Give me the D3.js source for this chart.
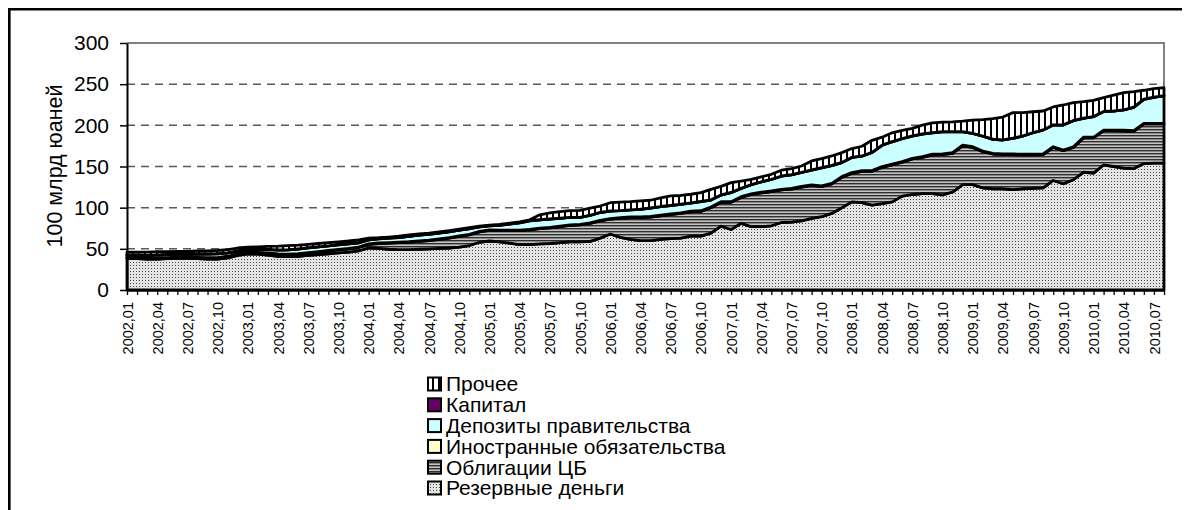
<!DOCTYPE html>
<html><head><meta charset="utf-8">
<script src="https://cdn.jsdelivr.net/npm/d3@7"></script>
<style>
body{margin:0;background:#fff;}
svg{display:block;font-family:Arial,"Liberation Sans",sans-serif;}
</style>
</head><body>
<svg id="chart" width="1187" height="510"></svg>
<script>
// ---- categories (monthly, 2002,01 .. 2010,08) ----
const categories = [];
for (let y = 2002; y <= 2010; y++) {
  for (let m = 1; m <= 12; m++) {
    if (y === 2010 && m > 8) break;
    categories.push(y + "," + String(m).padStart(2, "0"));
  }
}
const yTicks = [0, 50, 100, 150, 200, 250, 300];
const yTitle = "100 млрд юаней";

// ---- series values (100 bn yuan) ----
const reserve = [
  38.5, 38, 37.5, 37.5, 38, 38.5, 38.5, 38, 37.5, 37.5, 39, 42,
  44, 43.5, 42.5, 41, 40.5, 41, 42, 43, 44, 45, 46, 47.5,
  51, 50.5, 49.5, 49, 49, 49.5, 50, 50.5, 51, 52, 54, 58,
  59.5, 58.5, 57, 55, 55, 56, 56.5, 57.5, 58.5, 58.5, 59, 63,
  68, 64, 61.5, 60, 60, 61.5, 62.5, 63, 65.5, 65.5, 69, 77.5,
  73.5, 81, 77, 77, 78, 82, 82.5, 84, 87, 89, 93, 100,
  107, 106, 103, 105, 107, 114, 116, 117, 117, 115.5, 119, 128,
  128, 124, 123, 123, 122, 123, 123.5, 124, 133, 129, 134, 143,
  142, 152, 150, 148, 147.5, 153.5, 154, 154
];
const bonds = [
  0.3, 0.3, 0.4, 0.6, 0.8, 1.0, 1.1, 1.2, 1.3, 1.4, 1.5, 1.5,
  1.5, 1.8, 2, 2.3, 2.5, 2.8, 3, 3.2, 3.5, 3.8, 4, 4.2,
  4.5, 6, 7.5, 8.5, 9, 9.5, 10, 11, 12, 13, 13, 12.5,
  12.8, 13.5, 15, 17, 18, 18.5, 19, 19.5, 20, 20.5, 22, 21,
  18, 23, 26.5, 28, 28.5, 28.5, 29, 30, 29.5, 30, 31, 29,
  33, 31.5, 39, 41, 41.5, 39.5, 40, 41, 39.8, 36.6, 35.8, 36.9,
  34.7, 38.2, 41.2, 44, 45, 41.2, 43.2, 44.2, 47.2, 48.9, 47, 47.2,
  45.2, 44, 42.2, 41.4, 42.4, 41.2, 40.7, 40.4, 40.2, 40.2, 39.2, 41.7,
  42.7, 41.5, 43.5, 45.2, 45.2, 48.2, 47.7, 47.7
];
const foreign = [
  0.5, 0.5, 0.4, 0.5, 0.5, 0.5, 0.5, 0.4, 0.5, 0.5, 0.5, 0.5,
  0.5, 0.5, 0.5, 0.5, 0.4, 0.5, 0.5, 0.5, 0.5, 0.5, 0.5, 0.5,
  0.6, 0.6, 0.6, 0.6, 0.6, 0.6, 0.6, 0.6, 0.6, 0.6, 0.6, 0.6,
  0.6, 0.6, 0.6, 0.6, 0.6, 0.6, 0.6, 0.6, 0.6, 0.6, 0.6, 0.6,
  0.8, 0.8, 0.8, 0.8, 0.8, 0.8, 0.8, 0.8, 0.8, 0.8, 0.8, 0.8,
  0.8, 0.8, 0.8, 0.8, 0.8, 0.8, 0.8, 0.8, 0.8, 0.8, 0.8, 0.8,
  0.8, 0.8, 0.8, 0.8, 0.8, 0.8, 0.8, 0.8, 0.8, 0.8, 0.8, 0.8,
  0.8, 0.8, 0.8, 0.8, 0.8, 0.8, 0.8, 0.8, 0.8, 0.8, 0.8, 0.8,
  0.8, 0.8, 0.8, 0.8, 0.8, 0.8, 0.8, 0.8
];
const deposits = [
  3.0, 3.3, 3.6, 3.8, 3.6, 3.5, 3.6, 3.9, 4.3, 4.5, 4.0, 3.1,
  3.3, 3.6, 4.2, 4.8, 5.3, 5.5, 5.6, 5.6, 5.5, 5.5, 5.4, 5.0,
  4.7, 5, 5.3, 5.5, 6.5, 7, 7, 7, 7, 7, 6.8, 5.5,
  5, 6, 7.5, 9, 10.5, 10, 10, 9.5, 9, 8.5, 9, 9.5,
  9, 8.5, 8.4, 9.2, 10.2, 10.4, 10.2, 10.2, 9.7, 11, 8.5, 8,
  11, 10, 11, 12.5, 14, 16, 16.5, 17, 18, 22, 21.5, 17,
  18.5, 17.6, 22, 26, 27.2, 27.8, 27, 27.3, 25.9, 27, 25.3, 16.1,
  16.1, 18, 17, 17, 19, 22, 26, 29, 26.4, 30.4, 31.7, 23,
  25, 22.4, 23.1, 24.7, 28.4, 29.1, 31.5, 33.5
];
const capital = [
  0.2, 0.2, 0.2, 0.2, 0.2, 0.2, 0.2, 0.2, 0.2, 0.2, 0.2, 0.2,
  0.2, 0.2, 0.2, 0.2, 0.2, 0.2, 0.2, 0.2, 0.2, 0.2, 0.2, 0.2,
  0.2, 0.2, 0.2, 0.2, 0.2, 0.2, 0.2, 0.2, 0.2, 0.2, 0.2, 0.2,
  0.2, 0.2, 0.2, 0.2, 0.2, 0.2, 0.2, 0.2, 0.2, 0.2, 0.2, 0.2,
  0.2, 0.2, 0.2, 0.2, 0.2, 0.2, 0.2, 0.2, 0.2, 0.2, 0.2, 0.2,
  0.2, 0.2, 0.2, 0.2, 0.2, 0.2, 0.2, 0.2, 0.2, 0.2, 0.2, 0.2,
  0.2, 0.2, 0.2, 0.2, 0.2, 0.2, 0.2, 0.2, 0.2, 0.2, 0.2, 0.2,
  0.2, 0.2, 0.2, 0.2, 0.2, 0.2, 0.2, 0.2, 0.2, 0.2, 0.2, 0.2,
  0.2, 0.2, 0.2, 0.2, 0.2, 0.2, 0.2, 0.2
];
const other = [
  3.5, 3.7, 3.8, 3.9, 3.4, 3.3, 3.1, 3.7, 3.7, 3.9, 3.8, 3.7,
  2.5, 2.9, 3.6, 4.5, 5, 4.5, 4.2, 4, 3.8, 3.5, 3.4, 3.6,
  2, 1.2, 1.2, 1.5, 1.7, 1.2, 1.2, 1.2, 1.2, 1, 1, 0.8,
  0.8, 0.8, 0.9, 1, 1, 6, 7.5, 8, 8, 8.5, 8.5, 7.7,
  10, 10.3, 9.9, 10.1, 9.3, 10.4, 11.5, 10.6, 10.6, 10.7, 12.8, 10.3,
  11.9, 8.8, 6.3, 6, 6, 7, 7.3, 7.6, 11, 11, 11.5, 12,
  10.6, 11.8, 14.6, 9.6, 10.7, 9.8, 9.2, 10.7, 11.9, 11.6, 12, 12.8,
  16, 20, 24.9, 27.7, 31, 28.3, 25.3, 23, 21.7, 24.1, 21.6, 20,
  19.6, 16.7, 19.2, 20.9, 18.8, 10.8, 10.4, 9.6
];

const seriesNames = ["Резервные деньги", "Облигации ЦБ", "Иностранные обязательства",
  "Депозиты правительства", "Капитал", "Прочее"];
const seriesValues = [reserve, bonds, foreign, deposits, capital, other];

// ---- drawing ----
const svg = d3.select("#chart");
const defs = svg.append("defs");

const pRes = defs.append("pattern").attr("id", "pRes").attr("patternUnits", "userSpaceOnUse")
  .attr("width", 3).attr("height", 3);
pRes.append("rect").attr("width", 3).attr("height", 3).attr("fill", "#e4e4e4");
pRes.append("rect").attr("x", 1).attr("y", 1).attr("width", 1).attr("height", 1).attr("fill", "#4a4a4a");

const pBond = defs.append("pattern").attr("id", "pBond").attr("patternUnits", "userSpaceOnUse")
  .attr("width", 4).attr("height", 3);
pBond.append("rect").attr("width", 4).attr("height", 3).attr("fill", "#c4c4c4");
pBond.append("rect").attr("y", 0).attr("width", 4).attr("height", 1.4).attr("fill", "#2e2e2e");

const pOth = defs.append("pattern").attr("id", "pOth").attr("patternUnits", "userSpaceOnUse")
  .attr("width", 6).attr("height", 6);
pOth.append("rect").attr("width", 6).attr("height", 6).attr("fill", "#fff");
pOth.append("rect").attr("x", 0).attr("width", 2).attr("height", 6).attr("fill", "#000");

const fills = ["url(#pRes)", "url(#pBond)", "#ffffcc", "#ccffff", "#660066", "url(#pOth)"];

// outer frame (top and left visible)
svg.append("line").attr("x1", 8).attr("x2", 1182).attr("y1", 9.3).attr("y2", 9.3)
  .attr("stroke", "#000").attr("stroke-width", 2.6);
svg.append("line").attr("x1", 9.3).attr("x2", 9.3).attr("y1", 8).attr("y2", 512)
  .attr("stroke", "#000").attr("stroke-width", 2.6);

const x0 = 127, x1 = 1164, yTop = 43, yBot = 290;
const x = d3.scalePoint().domain(categories).range([x0, x1]);
const y = d3.scaleLinear().domain([0, 300]).range([yBot, yTop]);

svg.append("path").attr("d", `M${x0},${yTop}H${x1}V${yBot}`)
  .attr("fill", "none").attr("stroke", "#808080").attr("stroke-width", 2);

svg.append("g").selectAll("line").data(yTicks.filter(t => t > 0 && t < 300)).join("line")
  .attr("x1", x0).attr("x2", x1)
  .attr("y1", d => y(d)).attr("y2", d => y(d))
  .attr("stroke", "#5a5a5a").attr("stroke-width", 1.5).attr("stroke-dasharray", "8,6");

const rows = categories.map((c, i) => {
  const r = { cat: c };
  seriesNames.forEach((n, k) => r[n] = seriesValues[k][i]);
  return r;
});
const stack = d3.stack().keys(seriesNames)(rows);
const area = d3.area()
  .x(d => x(d.data.cat))
  .y0(d => y(d[0]))
  .y1(d => y(d[1]));

svg.append("g").selectAll("path").data(stack).join("path")
  .attr("d", area)
  .attr("fill", (d, i) => fills[i])
  .attr("stroke", "#000")
  .attr("stroke-width", 2.8)
  .attr("stroke-linejoin", "round");

const yAxis = d3.axisLeft(y).tickValues(yTicks).tickSize(7).tickSizeOuter(0).tickPadding(11);
const gy = svg.append("g").attr("transform", `translate(${x0},0)`).call(yAxis);
gy.select(".domain").attr("stroke", "#000").attr("stroke-width", 2);
gy.selectAll(".tick line").attr("stroke", "#000").attr("stroke-width", 1.5);
gy.selectAll(".tick text").attr("font-size", 21).attr("fill", "#000")
  .attr("font-family", "Arial, 'Liberation Sans', sans-serif");

const xAxis = d3.axisBottom(x).tickSize(5).tickSizeOuter(0)
  .tickFormat((d, i) => i % 3 === 0 ? d : "");
const gx = svg.append("g").attr("transform", `translate(0,${yBot})`).call(xAxis);
gx.select(".domain").attr("stroke", "#000").attr("stroke-width", 2);
gx.selectAll(".tick line").attr("stroke", "#000").attr("stroke-width", 1.3);
gx.selectAll(".tick text")
  .attr("font-size", 14.5).attr("fill", "#000")
  .attr("font-family", "Arial, 'Liberation Sans', sans-serif")
  .attr("text-anchor", "end")
  .attr("transform", "rotate(-90)")
  .attr("x", -12).attr("y", 0).attr("dy", "0.35em");

svg.append("text").attr("transform", "translate(62,166) rotate(-90)")
  .attr("text-anchor", "middle").attr("font-size", 21.5).attr("fill", "#000")
  .text(yTitle);

const legOrder = [5, 4, 3, 2, 1, 0];
const lg = svg.append("g");
legOrder.forEach((k, j) => {
  const cy = 384 + j * 20.8;
  lg.append("rect").attr("x", 428).attr("y", cy - 6.5).attr("width", 13).attr("height", 13)
    .attr("fill", fills[k]).attr("stroke", "#000").attr("stroke-width", 2);
  lg.append("text").attr("x", 446).attr("y", cy).attr("dy", "0.35em")
    .attr("font-size", 21).attr("fill", "#000").text(seriesNames[k]);
});
</script>
</body></html>
